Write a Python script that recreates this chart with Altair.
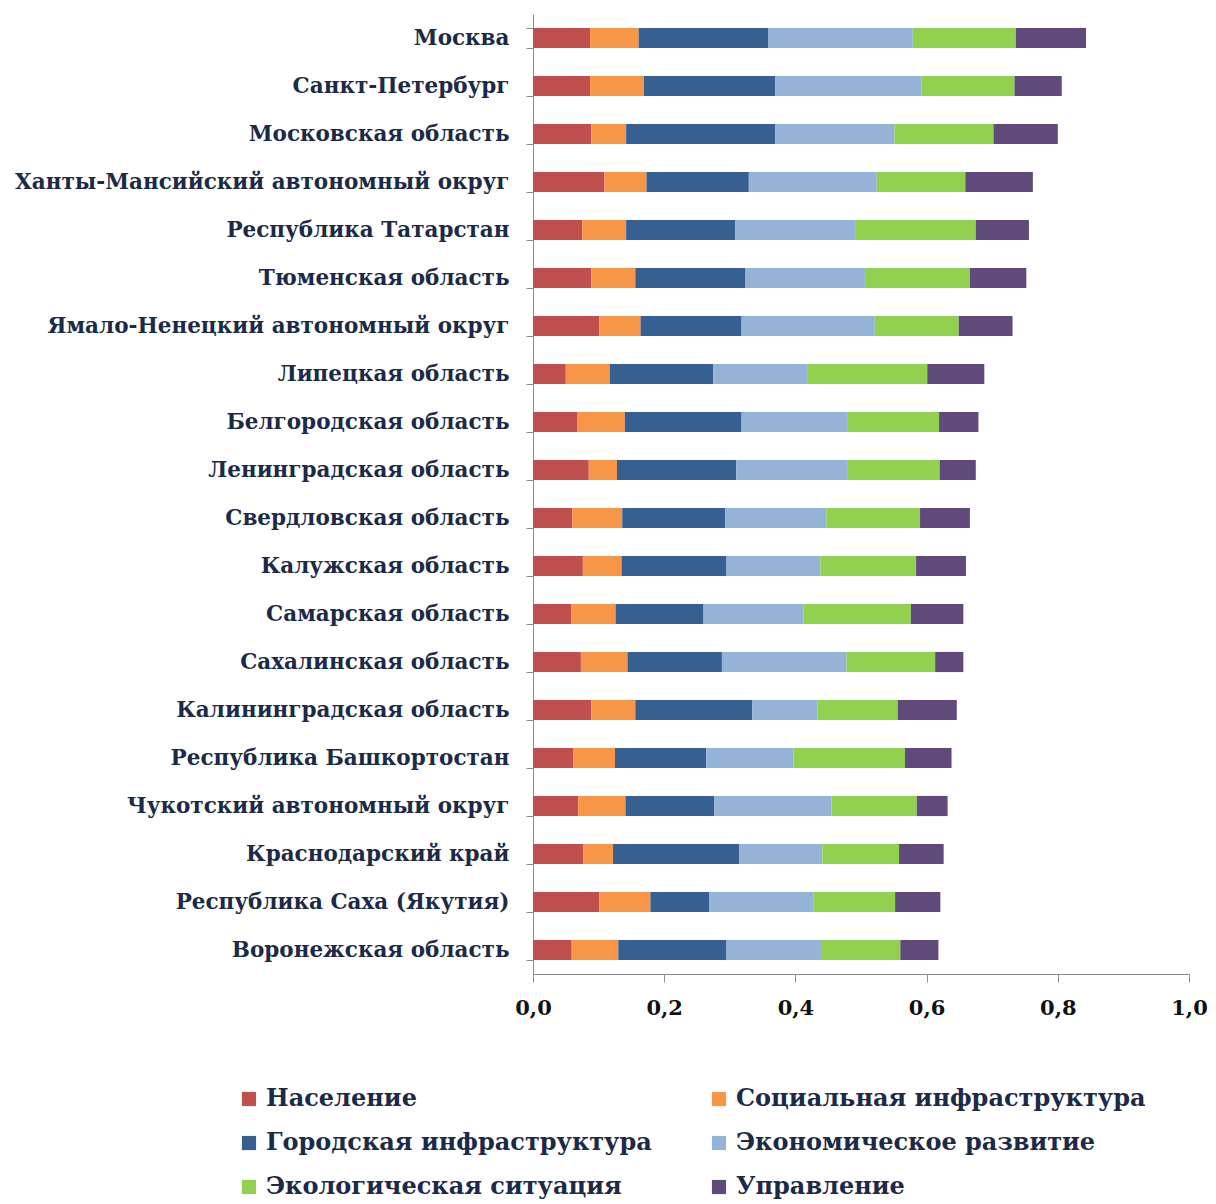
import altair as alt
import pandas as pd

regions = [
    "Москва", "Санкт-Петербург", "Московская область",
    "Ханты-Мансийский автономный округ", "Республика Татарстан",
    "Тюменская область", "Ямало-Ненецкий автономный округ",
    "Липецкая область", "Белгородская область", "Ленинградская область",
    "Свердловская область", "Калужская область", "Самарская область",
    "Сахалинская область", "Калининградская область",
    "Республика Башкортостан", "Чукотский автономный округ",
    "Краснодарский край", "Республика Саха (Якутия)", "Воронежская область",
]

components = [
    "Население", "Социальная инфраструктура", "Городская инфраструктура",
    "Экономическое развитие", "Экологическая ситуация", "Управление",
]

naselenie = [0.087, 0.087, 0.089, 0.109, 0.075, 0.089, 0.101, 0.050, 0.068, 0.085,
             0.060, 0.076, 0.058, 0.073, 0.089, 0.061, 0.069, 0.077, 0.101, 0.059]
social = [0.074, 0.082, 0.053, 0.064, 0.067, 0.067, 0.063, 0.067, 0.072, 0.043,
          0.076, 0.059, 0.068, 0.071, 0.067, 0.064, 0.072, 0.045, 0.078, 0.071]
urban = [0.198, 0.200, 0.227, 0.156, 0.166, 0.168, 0.154, 0.158, 0.178, 0.182,
         0.157, 0.160, 0.134, 0.144, 0.178, 0.139, 0.135, 0.192, 0.090, 0.165]
economy = [0.220, 0.223, 0.182, 0.195, 0.183, 0.182, 0.203, 0.144, 0.162, 0.170,
           0.154, 0.143, 0.152, 0.190, 0.100, 0.133, 0.179, 0.127, 0.159, 0.144]
ecology = [0.157, 0.142, 0.151, 0.135, 0.184, 0.160, 0.128, 0.182, 0.139, 0.140,
           0.143, 0.146, 0.164, 0.135, 0.122, 0.170, 0.130, 0.117, 0.124, 0.121]
management = [0.107, 0.072, 0.098, 0.103, 0.081, 0.086, 0.082, 0.087, 0.060, 0.055,
              0.076, 0.076, 0.080, 0.043, 0.090, 0.071, 0.047, 0.068, 0.069, 0.058]

colors = ["#C0504D", "#F79646", "#366092", "#95B3D7", "#92D050", "#604A7B"]

# legend is laid out column by column; reorder so that it reads row by row
legend_order = [components[i] for i in (0, 2, 4, 1, 3, 5)]
legend_colors = [colors[i] for i in (0, 2, 4, 1, 3, 5)]

series = [naselenie, social, urban, economy, ecology, management]
rows = []
for ci, (comp, vals) in enumerate(zip(components, series)):
    for region, v in zip(regions, vals):
        rows.append({"region": region, "component": comp, "value": v, "ord": ci})
df = pd.DataFrame(rows)

chart = alt.Chart(df).mark_bar().encode(
    y=alt.Y("region:N", sort=regions, title=None,
            scale=alt.Scale(paddingInner=0.58, paddingOuter=0.29),
            axis=alt.Axis(tickBand="extent", tickSize=7, tickColor="#8C8C8C",
                          domainColor="#8C8C8C", labelPadding=17,
                          labelFont="DejaVu Serif", labelFontWeight="bold",
                          labelFontSize=21.5, labelColor="#1B2A47", labelLimit=600)),
    x=alt.X("value:Q", stack="zero", title=None,
            scale=alt.Scale(domain=[0, 1], nice=False),
            axis=alt.Axis(values=[0, 0.2, 0.4, 0.6, 0.8, 1.0], grid=False,
                          labelExpr="replace(format(datum.value, '.1f'), '.', ',')",
                          labelFlush=False,
                          tickSize=8, tickColor="#8C8C8C", domainColor="#8C8C8C",
                          labelPadding=15, labelFont="DejaVu Serif",
                          labelFontWeight="bold", labelFontSize=21,
                          labelColor="#111111")),
    color=alt.Color("component:N",
                    scale=alt.Scale(domain=legend_order, range=legend_colors),
                    legend=alt.Legend(orient="none", legendX=-296, legendY=1073,
                                      columns=2, title=None, symbolType="square",
                                      symbolSize=200, symbolStrokeWidth=0,
                                      symbolOpacity=1,
                                      labelFont="DejaVu Serif",
                                      labelFontWeight="bold", labelFontSize=24,
                                      labelColor="#1B2A47", labelLimit=600,
                                      rowPadding=20, columnPadding=55,
                                      labelOffset=5, padding=0)),
    order=alt.Order("ord:Q", sort="ascending"),
).properties(
    width=656, height=960,
    autosize="none",
    padding={"left": 525, "top": 6, "right": 19, "bottom": 228},
).configure_view(stroke=None)

chart.save("out.html", embed_options={"renderer": "svg", "actions": False})
